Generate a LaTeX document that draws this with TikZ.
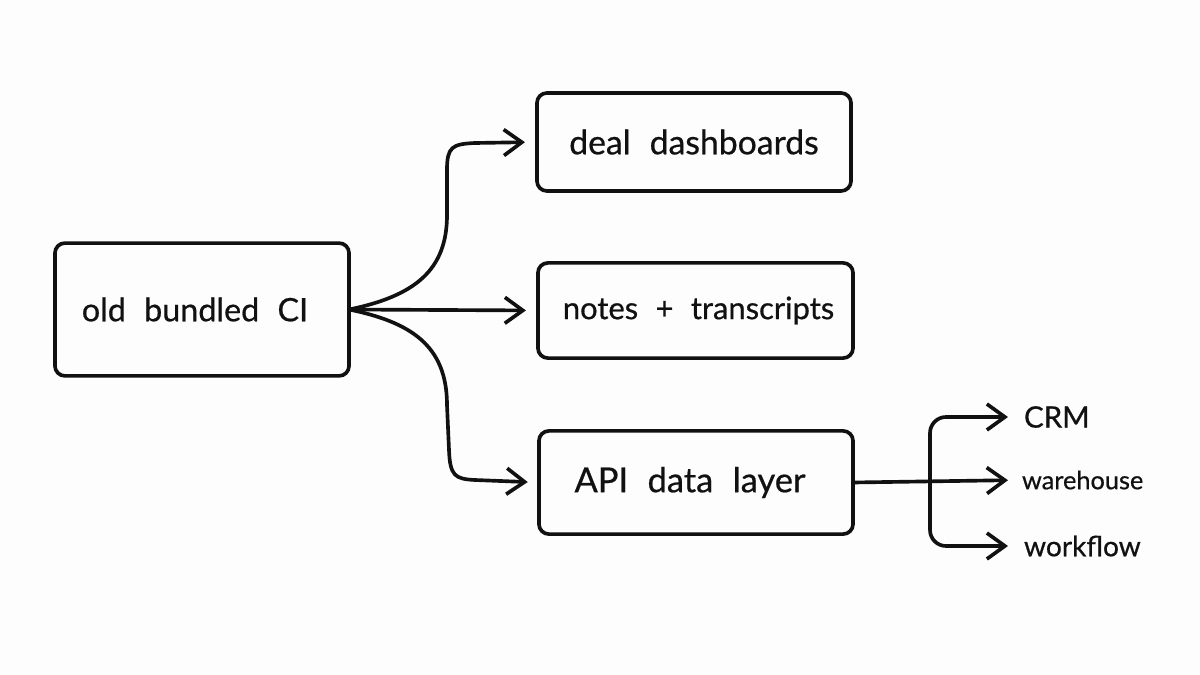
\documentclass[tikz,border=0pt]{standalone}
\usepackage{fontspec}
\setmainfont[WordSpace=2.2,FakeBold=0.6]{Lato}
\usetikzlibrary{calc}
\usetikzlibrary{arrows.meta}
\definecolor{ink}{HTML}{111111}
\definecolor{paper}{HTML}{FDFDFD}

\begin{document}
\begin{tikzpicture}[
     x=0.025cm,y=-0.025cm,
     box/.style={draw=ink,line width=2.6pt,rounded corners=2.5mm,outer sep=0pt,inner sep=0pt,text=ink},
     leaf/.style={inner sep=0pt,outer sep=0pt,anchor=west,text=ink},
     link/.style={draw=ink,line width=2.6pt,line join=round,-{Straight Barb[length=4.5mm,width=6.5mm,line width=2.6pt]}}
   ]
   \path[use as bounding box,fill=paper] (0,0) rectangle (1200,675);
   % Boxes.
   \node[box,minimum width=7.35cm,minimum height=3.32cm,font=\fontsize{23}{27}\selectfont] (old) at (202,309.5) {old bundled CI\kern 0.35cm};
   \node[box,minimum width=7.85cm,minimum height=2.45cm,font=\fontsize{24}{28}\selectfont] (deal) at (694,142) {deal dashboards};
   \node[box,minimum width=7.875cm,minimum height=2.38cm,font=\fontsize{22}{26}\selectfont] (notes) at (695.5,310.5) {\kern 0.15cm notes + transcripts};
   \node[box,minimum width=7.85cm,minimum height=2.58cm,font=\fontsize{24.5}{28}\selectfont] (api) at (696,482.5) {API data layer\kern 0.3cm};
   % Outputs.
   \node[leaf,font=\fontsize{21}{25}\selectfont] (crm) at (1024,417) {CRM};
   \node[leaf,font=\fontsize{18}{22}\selectfont] (warehouse) at (1022,480) {warehouse};
   \node[leaf,font=\fontsize{20}{24}\selectfont] (workflow) at (1024,546) {workflow};
   \coordinate (trunk) at (930,481);
   % Split from the old box.
   \draw[link,shorten >=3mm] (old.east) .. controls (415,296) and (447,270) .. (447,215) -- (447,170) .. controls (447,147) and (452,144) .. (475,143) -- (deal.west);
   \draw[link,shorten >=3mm] (old.east) -- (notes.west);
   \draw[link,shorten >=2.8mm] (old.east) .. controls (410,322) and (447,345) .. (447,405) -- (449,450) .. controls (450,476) and (455,479) .. (475,480) -- (api.west);
   % Split from the API box.
   \draw[link,shorten >=3.5mm] (api.east) -- (warehouse.west);
   \draw[link,rounded corners=4mm,shorten >=4mm] (trunk) |- (crm.west);
   \draw[link,rounded corners=4mm,shorten >=4mm] (trunk) |- (workflow.west);
 \end{tikzpicture}
\end{document}
